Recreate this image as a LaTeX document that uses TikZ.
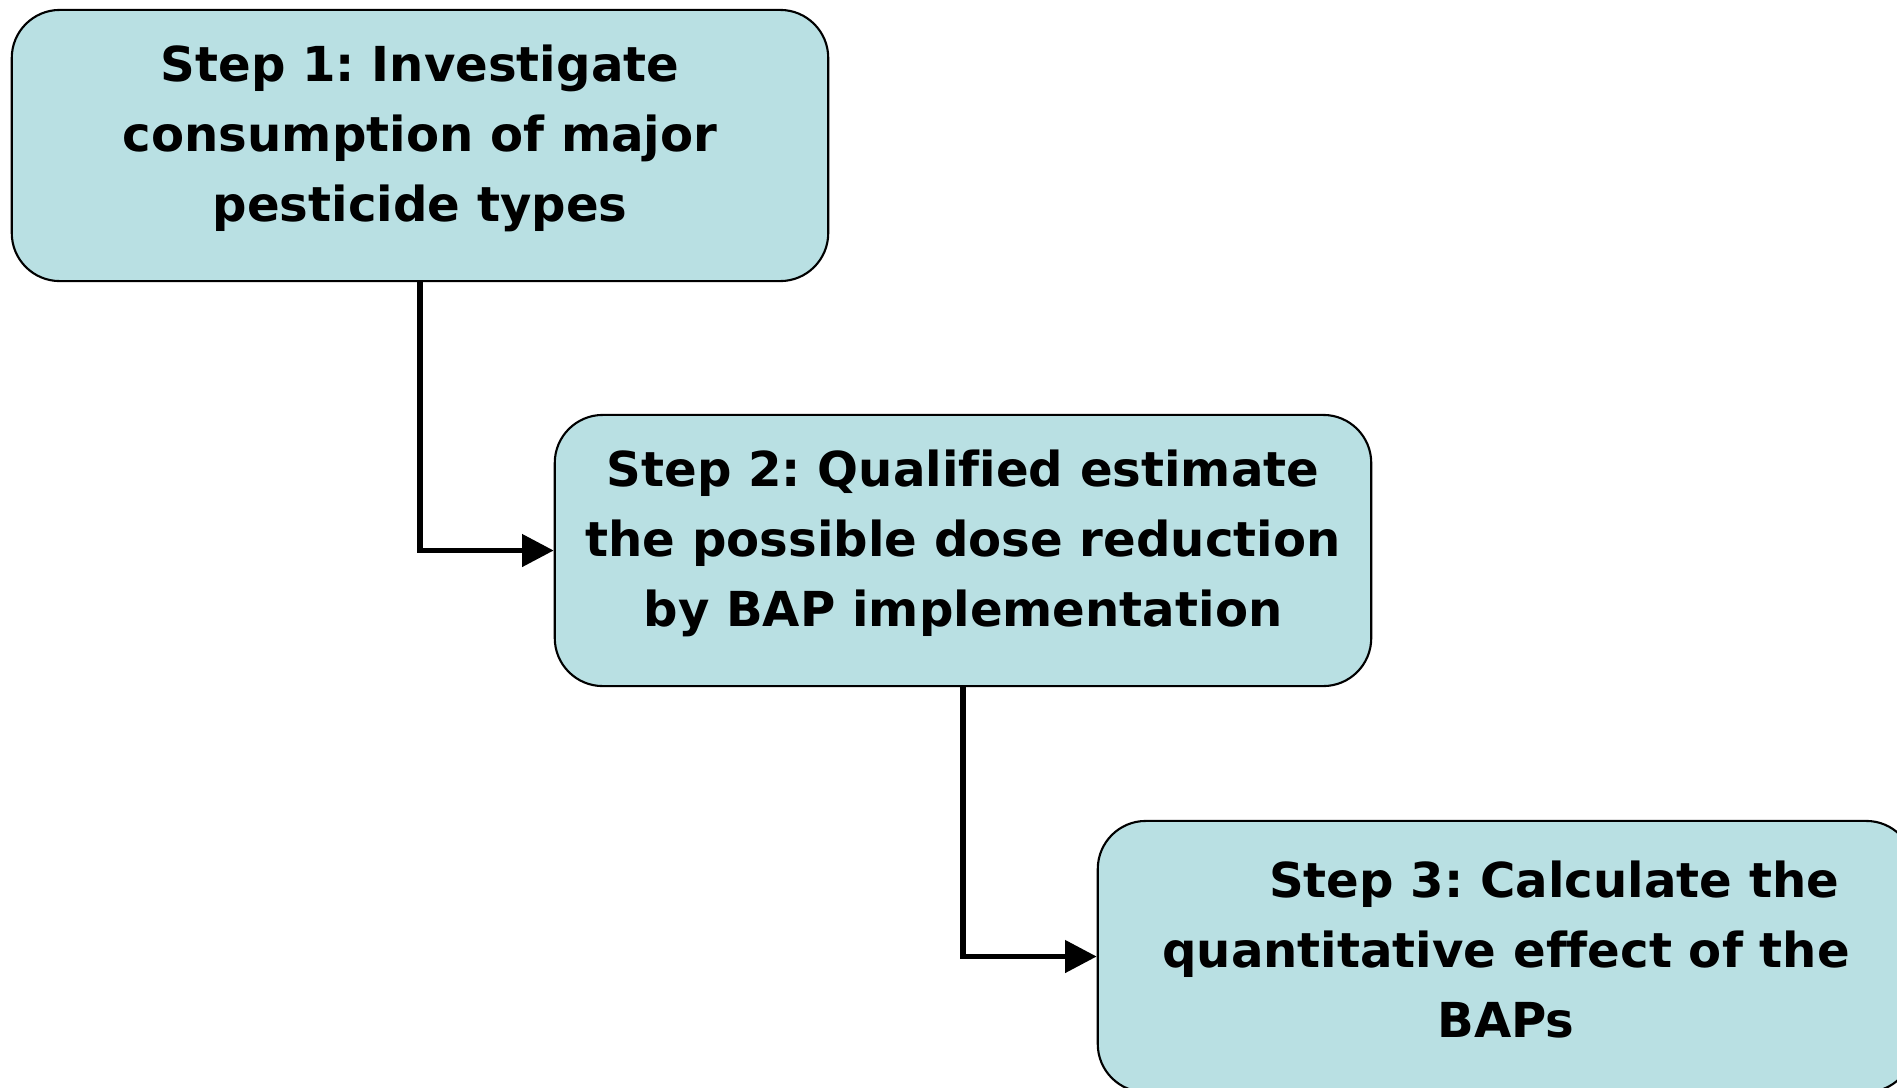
\documentclass[tikz,border=0pt]{standalone}
\usepackage{fontspec}
\setmainfont{DejaVu Sans}[Ligatures=NoCommon]
\usetikzlibrary{arrows.meta}
\definecolor{stepfill}{RGB}{185,224,227}
\frenchspacing
\begin{document}
\begin{tikzpicture}[x=0.01cm, y=-0.01cm,
	stepbox/.style={draw, line width=0.6pt, fill=stepfill, rounded corners=0.48cm,
		minimum width=8.16cm, minimum height=2.71cm},
	steptext/.style={align=center, yshift=0.07cm,
		font=\fontsize{13.7pt}{19.9pt}\selectfont\bfseries},
	link/.style={draw, line width=1.6pt, -{Triangle[length=9pt,width=9pt]}}]
	\useasboundingbox (0,0) rectangle (1897,1087);
	\node[stepbox, label={[steptext]center:Step 1: Investigate\\consumption of major\\pesticide types}] (s1) at (420,145.5) {};
	\node[stepbox, label={[steptext]center:Step 2: Qualified estimate\\the possible dose reduction\\by BAP implementation}] (s2) at (963,550.5) {};
	\node[stepbox, label={[steptext]center:\hspace*{0.96cm}Step 3: Calculate the\\quantitative effect of the\\BAPs}] (s3) at (1506,956.5) {};
	\draw[link] (s1.south) |- (s2.west);
	\draw[link] (s2.south) |- (s3.west);
\end{tikzpicture}
\end{document}
